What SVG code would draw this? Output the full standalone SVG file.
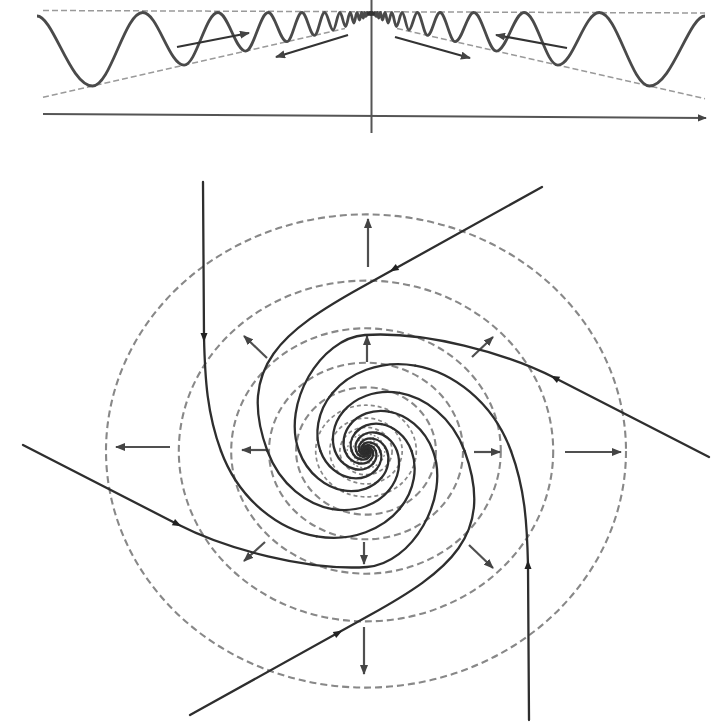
<svg xmlns="http://www.w3.org/2000/svg" width="724" height="724" viewBox="0 0 724 724">
<style>
.arm{fill:none;stroke:#2e2e2e;stroke-width:2.3;stroke-linecap:round;stroke-linejoin:round}
.ring{fill:none;stroke:#888;stroke-width:2.1;stroke-dasharray:7 4}
.ring2{fill:none;stroke:#888;stroke-width:1.7;stroke-dasharray:4 3}
.ring3{fill:none;stroke:#888;stroke-width:1.3;stroke-dasharray:2 2}
.rad{fill:none;stroke:#505050;stroke-width:2.2;marker-end:url(#ah)}
.env{fill:none;stroke:#9a9a9a;stroke-width:1.5;stroke-dasharray:6 3}
.axis{fill:none;stroke:#555;stroke-width:2}
.wave{fill:none;stroke:#4a4a4a;stroke-width:2.8;stroke-linejoin:round}
.tarr{fill:none;stroke:#333;stroke-width:2.2;marker-end:url(#ah)}
.tri{fill:#222}
</style>
<defs>
<marker id="ah" viewBox="0 0 10 8" refX="9" refY="4" markerWidth="4.6" markerHeight="3.7" orient="auto">
<path d="M0,0 L10,4 L0,8 z" fill="#444"/>
</marker>
<path id="tri" d="M5,0 L-4,-3.5 L-4,3.5 Z"/>
<path id="s0" d="M-145,0 C-126.36,50.62 -85.44,79.16 -49.3,85.39" fill="none" stroke="#2e2e2e" stroke-width="2.3" stroke-linecap="round" vector-effect="non-scaling-stroke"/>
<g id="L1"><use href="#s0"/><use href="#s0" transform="rotate(-60) scale(0.68)"/></g>
<g id="L2"><use href="#L1"/><use href="#L1" transform="rotate(-120) scale(0.4624)"/></g>
<g id="L3"><use href="#L2"/><use href="#L2" transform="rotate(-240) scale(0.21381)"/></g>
<g id="L4"><use href="#L3"/><use href="#L3" transform="rotate(-480) scale(0.045716)"/></g>
<path id="waveR" class="wave" d="M373.84,12.5 C374.07,12.5 374.23,15 374.46,15 C374.74,15 374.95,12.5 375.23,12.5 C375.57,12.5 375.82,16.5 376.16,16.5 C376.57,16.5 376.89,12.5 377.3,12.5 C377.8,12.5 378.19,18 378.69,18 C379.31,18 379.77,12.5 380.39,12.5 C381.14,12.5 381.71,20 382.46,20 C383.38,20 384.08,12.5 385,12.5 C386.13,12.5 386.97,23 388.1,23 C389.44,23 390.46,12.5 391.8,12.5 C393.47,12.5 394.73,26.5 396.4,26.5 C398.47,26.5 400.03,12.5 402.1,12.5 C404.57,12.5 406.43,30 408.9,30 C411.95,30 414.25,12.5 417.3,12.5 C421,12.5 423.8,35.4 427.5,35.4 C432.04,35.4 435.46,12.5 440,12.5 C445.52,12.5 449.68,41.7 455.2,41.7 C461.95,41.7 467.05,12.5 473.8,12.5 C482,12.5 488.2,51.1 496.4,51.1 C506.46,51.1 514.04,12.5 524.1,12.5 C536.37,12.5 545.63,65.1 557.9,65.1 C572.89,65.1 584.21,12.5 599.2,12.5 C617.46,12.5 631.24,86 649.5,86 C671.8,86 689,16 705,16"/>
</defs>
<rect width="724" height="724" fill="#ffffff"/>

<g id="wave-panel">
<line class="env" x1="43" y1="10.5" x2="705" y2="13"/>
<line class="env" x1="43" y1="97.3" x2="345" y2="28.4"/>
<line class="env" x1="397" y1="28.4" x2="705" y2="98.7"/>
<line class="axis" x1="371.5" y1="0" x2="371.5" y2="133"/>
<line class="axis" x1="43" y1="114" x2="706" y2="118" marker-end="url(#ah)"/>
<use href="#waveR"/>
<use href="#waveR" transform="matrix(-1 0 0 1 742 0)"/>
<ellipse cx="371" cy="13.5" rx="4" ry="2.5" fill="#333"/>
<line class="tarr" x1="177" y1="47" x2="249" y2="33"/>
<line class="tarr" x1="348" y1="35" x2="276" y2="57"/>
<line class="tarr" x1="395" y1="37" x2="470" y2="58"/>
<line class="tarr" x1="567" y1="48" x2="496" y2="35"/>
</g>

<g id="rings">
<ellipse class="ring" cx="366" cy="451" rx="260" ry="236.6"/>
<ellipse class="ring" cx="366" cy="451" rx="187.2" ry="170.4"/>
<ellipse class="ring" cx="366" cy="451" rx="134.8" ry="122.7"/>
<ellipse class="ring" cx="366" cy="451" rx="97" ry="88.3"/>
<ellipse class="ring" cx="366" cy="451" rx="69.9" ry="63.6"/>
<ellipse class="ring2" cx="366" cy="451" rx="50.3" ry="45.8"/>
<ellipse class="ring2" cx="366" cy="451" rx="36.2" ry="32.9"/>
<ellipse class="ring2" cx="366" cy="451" rx="26.1" ry="23.7"/>
<ellipse class="ring3" cx="366" cy="451" rx="18.8" ry="17.1"/>
<ellipse class="ring3" cx="366" cy="451" rx="13.5" ry="12.3"/>
<ellipse class="ring3" cx="366" cy="451" rx="9.7" ry="8.8"/>
<ellipse class="ring3" cx="366" cy="451" rx="7" ry="6.4"/>
<ellipse class="ring3" cx="366" cy="451" rx="5" ry="4.6"/>
</g>

<g id="radial-arrows">
<line class="rad" x1="368" y1="267" x2="368" y2="219"/>
<line class="rad" x1="367" y1="362" x2="367" y2="336"/>
<line class="rad" x1="364" y1="627" x2="364" y2="674"/>
<line class="rad" x1="364" y1="542" x2="364" y2="564"/>
<line class="rad" x1="170" y1="447" x2="116" y2="447"/>
<line class="rad" x1="266" y1="450" x2="242" y2="450"/>
<line class="rad" x1="565" y1="452" x2="621" y2="452"/>
<line class="rad" x1="474" y1="452" x2="500" y2="452"/>
<line class="rad" x1="267" y1="358" x2="244" y2="336"/>
<line class="rad" x1="472" y1="357" x2="493" y2="337"/>
<line class="rad" x1="265" y1="542" x2="244" y2="561"/>
<line class="rad" x1="469" y1="545" x2="493" y2="568"/>
</g>

<g id="arms">
<g id="arms-half">
<path class="arm" d="M203,182 L204,337 C205,380 207.2,413.5 221,451"/>
<path class="arm" d="M542,187 L362,287 C283.3,330.7 236.3,366.6 267.4,451"/>
<path class="arm" d="M709,457 L555,378 C506,352.9 425,331 365,335 C320,338 281.7,404.1 298.95,451"/>
<g transform="translate(366,451)">
<use href="#L4"/>
<use href="#L4" transform="scale(0.68)"/>
<use href="#L4" transform="scale(0.4624)"/>
</g>
<use href="#tri" class="tri" transform="translate(204,337) rotate(90)"/>
<use href="#tri" class="tri" transform="translate(394,269) rotate(150.9)"/>
<use href="#tri" class="tri" transform="translate(555,378) rotate(207.2)"/>
</g>
<use href="#arms-half" transform="rotate(180 366 451)"/>
</g>
</svg>
